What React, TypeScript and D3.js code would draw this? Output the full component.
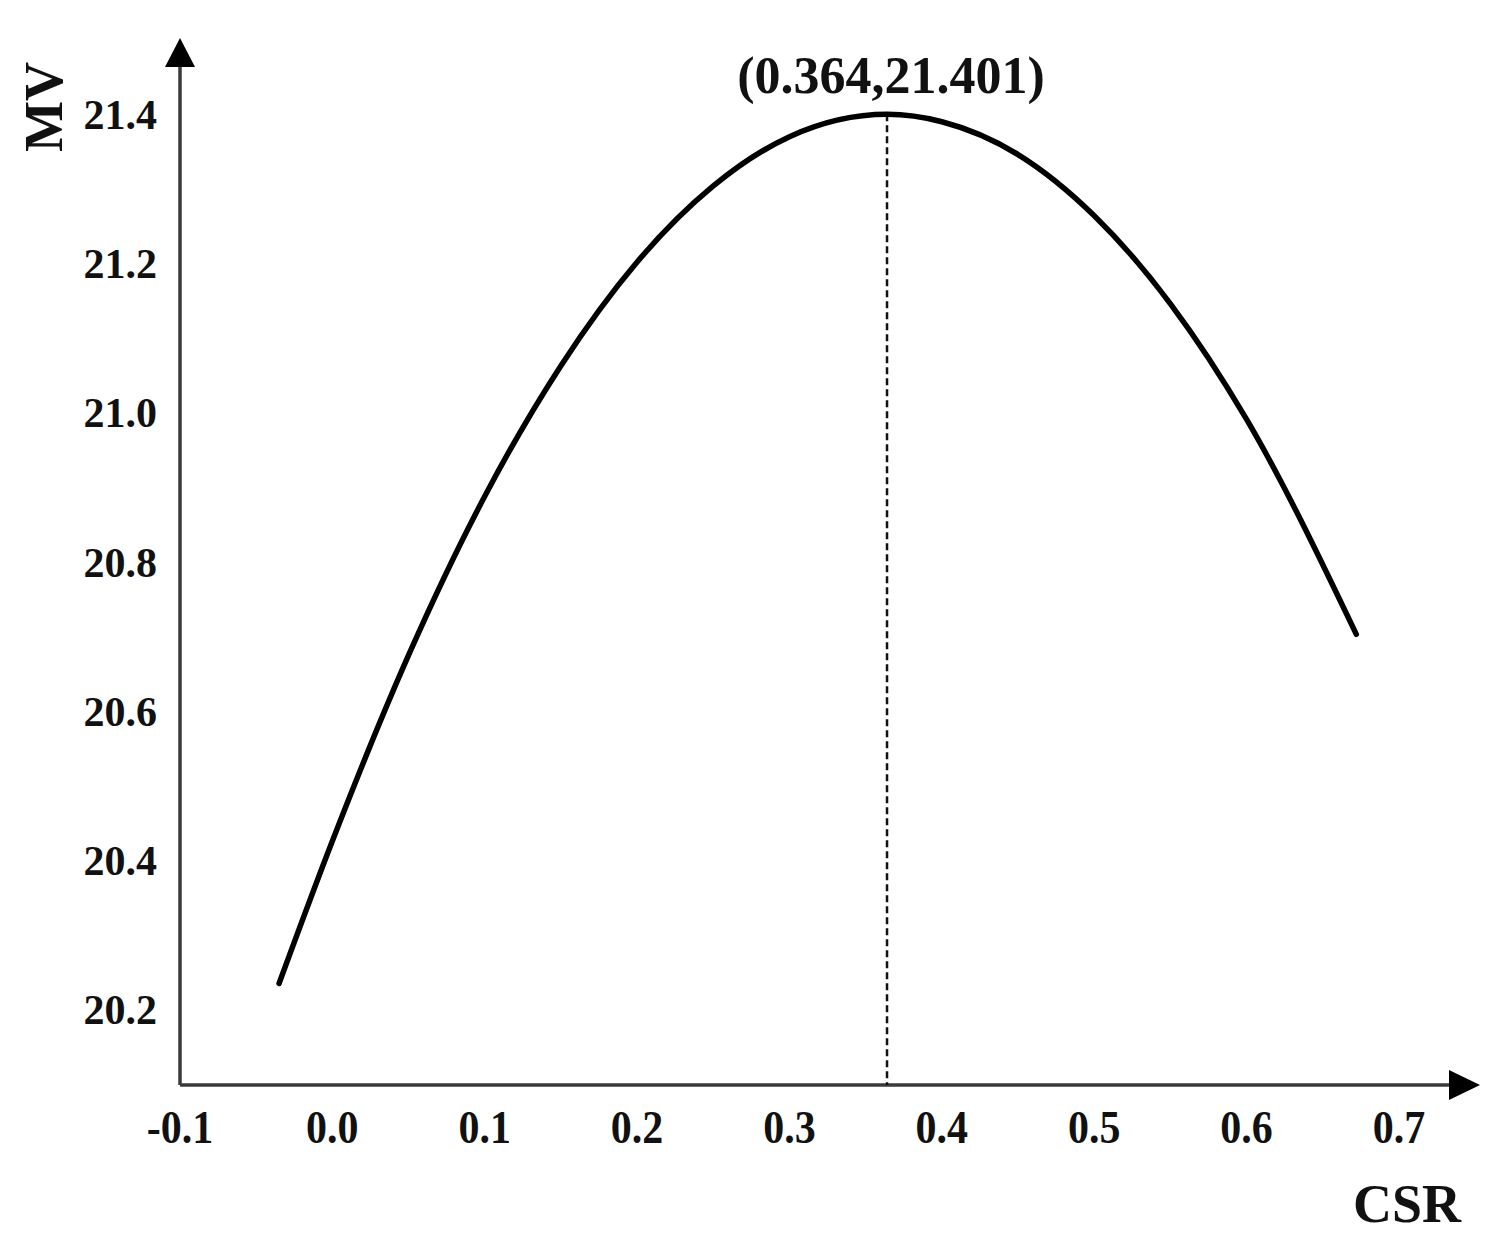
import React from 'react';
import * as d3 from 'd3';

// points (CSR, MV)
const csr = [-0.035, 0.0, 0.05, 0.1, 0.15, 0.2, 0.25, 0.3, 0.364, 0.4, 0.45, 0.5, 0.55, 0.6, 0.672];
const mv = [20.236, 20.427, 20.676, 20.889, 21.064, 21.203, 21.305, 21.371, 21.401, 21.391, 21.347, 21.265, 21.147, 20.992, 20.704];

const xTicks = [-0.1, 0.0, 0.1, 0.2, 0.3, 0.4, 0.5, 0.6, 0.7];
const yTicks = [20.2, 20.4, 20.6, 20.8, 21.0, 21.2, 21.4];

const peak = { x: 0.364, y: 21.401, label: '(0.364,21.401)' };

const width = 1502;
const height = 1255;
const font = '"Liberation Serif", "Times New Roman", serif';

const App = () => {
  const x = d3.scaleLinear().domain([-0.1, 0.7]).range([180, 1399]);
  const y = d3.scaleLinear().domain([20.1, 21.4]).range([1085, 115]);

  const pts = csr.map((c, i) => [c, mv[i]] as [number, number]);
  const line = d3.line<[number, number]>()
    .x(d => x(d[0]))
    .y(d => y(d[1]))
    .curve(d3.curveMonotoneX);

  const x0 = x(-0.1);
  const y0 = y(20.1);
  const axisColor = '#3a3a3a';

  return (
    <svg width={width} height={height} style={{ position: 'absolute', left: 0, top: 0, background: '#fff' }}>
      {/* axes */}
      <line x1={x0} y1={y0} x2={x0} y2={60} stroke={axisColor} strokeWidth={3.5} />
      <line x1={x0} y1={y0} x2={1455} y2={y0} stroke={axisColor} strokeWidth={3.5} />
      <path d={`M${x0},38 L${x0 - 15},67 L${x0 + 15},67 Z`} fill="#000" />
      <path d={`M1480,${y0} L1449,${y0 - 15} L1449,${y0 + 15} Z`} fill="#000" />

      {/* x tick labels */}
      {xTicks.map(t => (
        <text key={'x' + t} x={x(t)} y={1143} textAnchor="middle" fontFamily={font}
          fontWeight="bold" fontSize={42} fill="#111"
          transform={`translate(0,1143) scale(1,1.12) translate(0,-1143)`}>
          {t.toFixed(1)}
        </text>
      ))}

      {/* y tick labels */}
      {yTicks.map(t => (
        <text key={'y' + t} x={157} y={y(t) + 14} textAnchor="end" fontFamily={font}
          fontWeight="bold" fontSize={42} fill="#111">
          {t.toFixed(1)}
        </text>
      ))}

      {/* axis titles */}
      <text x={1407} y={1222} textAnchor="middle" fontFamily={font} fontWeight="bold" fontSize={54} fill="#111">CSR</text>
      <text transform="translate(62,107) rotate(-90)" textAnchor="middle" fontFamily={font}
        fontWeight="bold" fontSize={54} fill="#111">MV</text>

      {/* dashed line at peak */}
      <line x1={x(peak.x)} y1={y(peak.y)} x2={x(peak.x)} y2={y0} stroke="#111"
        strokeWidth={2.5} strokeDasharray="7,4" />

      {/* curve */}
      <path d={line(pts) || ''} fill="none" stroke="#000" strokeWidth={5.5} strokeLinecap="round" />

      {/* peak annotation */}
      <text x={891} y={93} textAnchor="middle" fontFamily={font} fontWeight="bold" fontSize={52} fill="#111">
        {peak.label}
      </text>
    </svg>
  );
};

export default App;
